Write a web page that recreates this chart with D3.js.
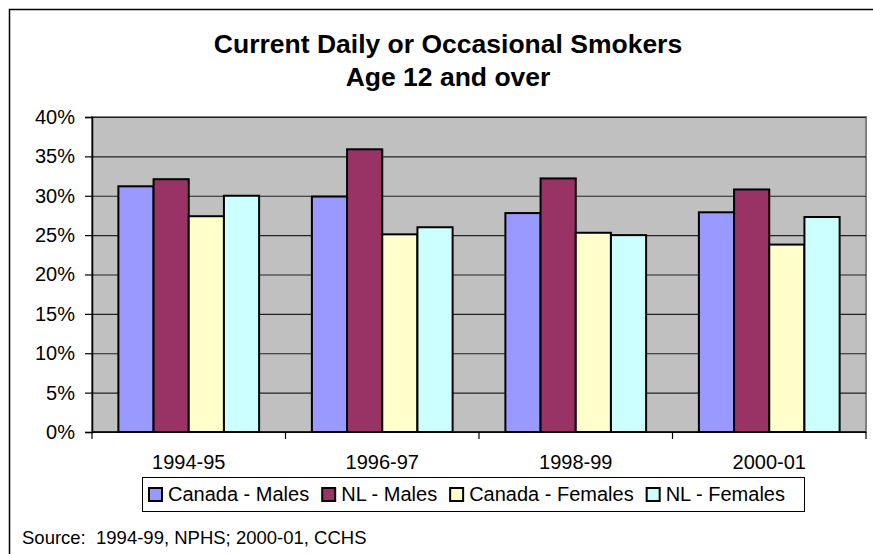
<!DOCTYPE html>
<html>
<head>
<meta charset="utf-8">
<script src="https://cdn.jsdelivr.net/npm/d3@7"></script>
<style>
  body { margin: 0; background: #fff; }
  text { font-family: Arial, "Liberation Sans", sans-serif; fill: #000; }
</style>
</head>
<body>
<div id="chart"></div>
<script>
// chart values (percent)
var categories = ["1994-95", "1996-97", "1998-99", "2000-01"];
var seriesNames = ["Canada - Males", "NL - Males", "Canada - Females", "NL - Females"];
var canadaMales = [31.2, 29.9, 27.8, 27.9];
var nlMales = [32.1, 35.9, 32.2, 30.8];
var canadaFemales = [27.4, 25.1, 25.3, 23.8];
var nlFemales = [30.0, 26.0, 25.0, 27.3];
var yTicks = [0, 5, 10, 15, 20, 25, 30, 35, 40];

var seriesColors = ["#9999FF", "#993366", "#FFFFCC", "#CCFFFF"];
var seriesValues = [canadaMales, nlMales, canadaFemales, nlFemales];

var svgWidth = 873;
var svgHeight = 554;
var margin = { top: 117, right: 7, bottom: 122, left: 92 };
var width = svgWidth - margin.left - margin.right;
var height = svgHeight - margin.top - margin.bottom;

var svg = d3.select("#chart")
    .append("svg")
    .attr("width", svgWidth)
    .attr("height", svgHeight);

// outer chart border (only top and left visible)
svg.append("rect")
    .attr("x", 9.5)
    .attr("y", 9.5)
    .attr("width", 950)
    .attr("height", 700)
    .attr("fill", "none")
    .attr("stroke", "#000")
    .attr("stroke-width", 1.5);

// title
var title = svg.append("text")
    .attr("text-anchor", "middle")
    .attr("font-size", "26.5px")
    .attr("font-weight", "bold");
title.append("tspan").attr("x", 448).attr("y", 53).text("Current Daily or Occasional Smokers");
title.append("tspan").attr("x", 448).attr("y", 86).text("Age 12 and over");

var chartGroup = svg.append("g")
    .attr("transform", `translate(${margin.left}, ${margin.top})`);

// scales
var x0 = d3.scaleBand()
    .domain(categories)
    .range([0, width])
    .padding(0);

var x1 = d3.scaleBand()
    .domain(d3.range(seriesNames.length))
    .range([0, x0.bandwidth()])
    .paddingInner(0)
    .paddingOuter(0.75);

var y = d3.scaleLinear()
    .domain([0, 40])
    .range([height, 0]);

// plot background
chartGroup.append("rect")
    .attr("width", width)
    .attr("height", height)
    .attr("fill", "#C0C0C0")
    .attr("stroke", "#808080")
    .attr("stroke-width", 2);

// gridlines
chartGroup.append("g")
    .call(d3.axisLeft(y).tickValues(yTicks).tickSize(-width).tickFormat(""))
    .call(g => g.select(".domain").remove())
    .call(g => g.selectAll("line").attr("stroke", "#222").attr("stroke-width", 1.2));

// bars
var rows = categories.map(function(c, i) {
    return { cat: c, values: seriesValues.map(function(s) { return s[i]; }) };
});

var groups = chartGroup.selectAll(".grp")
    .data(rows)
    .enter()
    .append("g")
    .attr("class", "grp")
    .attr("transform", d => `translate(${x0(d.cat)},0)`);

groups.selectAll("rect")
    .data(d => d.values.map((v, k) => ({ k: k, v: v })))
    .enter()
    .append("rect")
    .attr("x", d => x1(d.k))
    .attr("y", d => y(d.v))
    .attr("width", x1.bandwidth())
    .attr("height", d => height - y(d.v))
    .attr("fill", d => seriesColors[d.k])
    .attr("stroke", "#000")
    .attr("stroke-width", 2);

// y axis
chartGroup.append("g")
    .call(d3.axisLeft(y).tickValues(yTicks).tickSize(7).tickPadding(10).tickFormat(d => d + "%"))
    .call(g => g.select(".domain").attr("stroke", "#000").attr("stroke-width", 1.5))
    .call(g => g.selectAll("line").attr("stroke", "#000").attr("stroke-width", 1.2))
    .call(g => g.selectAll("text").attr("font-size", "20px").attr("font-family", "Arial, 'Liberation Sans', sans-serif"));

// x axis: ticks at band boundaries, labels at band centres
var xAxis = chartGroup.append("g")
    .attr("transform", `translate(0,${height})`);

xAxis.append("line")
    .attr("x1", 0).attr("x2", width)
    .attr("stroke", "#000").attr("stroke-width", 1.5);

xAxis.selectAll(".tick")
    .data(categories.concat(["end"]))
    .enter()
    .append("line")
    .attr("x1", (d, i) => i * x0.step())
    .attr("x2", (d, i) => i * x0.step())
    .attr("y1", 0).attr("y2", 7)
    .attr("stroke", "#000").attr("stroke-width", 1.2);

xAxis.selectAll(".lbl")
    .data(categories)
    .enter()
    .append("text")
    .attr("x", d => x0(d) + x0.bandwidth() / 2)
    .attr("y", 37)
    .attr("text-anchor", "middle")
    .attr("font-size", "20px")
    .text(d => d);

// legend
var legend = svg.append("g");
legend.append("rect")
    .attr("x", 142.5).attr("y", 477.5)
    .attr("width", 662).attr("height", 34)
    .attr("fill", "#fff")
    .attr("stroke", "#000")
    .attr("stroke-width", 1);

var lx = 149;
seriesNames.forEach(function(name, k) {
    legend.append("rect")
        .attr("x", lx).attr("y", 488)
        .attr("width", 13).attr("height", 13)
        .attr("fill", seriesColors[k])
        .attr("stroke", "#000")
        .attr("stroke-width", 2);
    var t = legend.append("text")
        .attr("x", lx + 19)
        .attr("y", 501)
        .attr("font-size", "20px")
        .text(name);
    lx = lx + 19 + t.node().getComputedTextLength() + 13;
});

// source note
svg.append("text")
    .attr("x", 22)
    .attr("y", 544)
    .attr("font-size", "18.5px")
    .attr("xml:space", "preserve")
    .style("white-space", "pre")
    .text("Source:  1994-99, NPHS; 2000-01, CCHS");
</script>
</body>
</html>
